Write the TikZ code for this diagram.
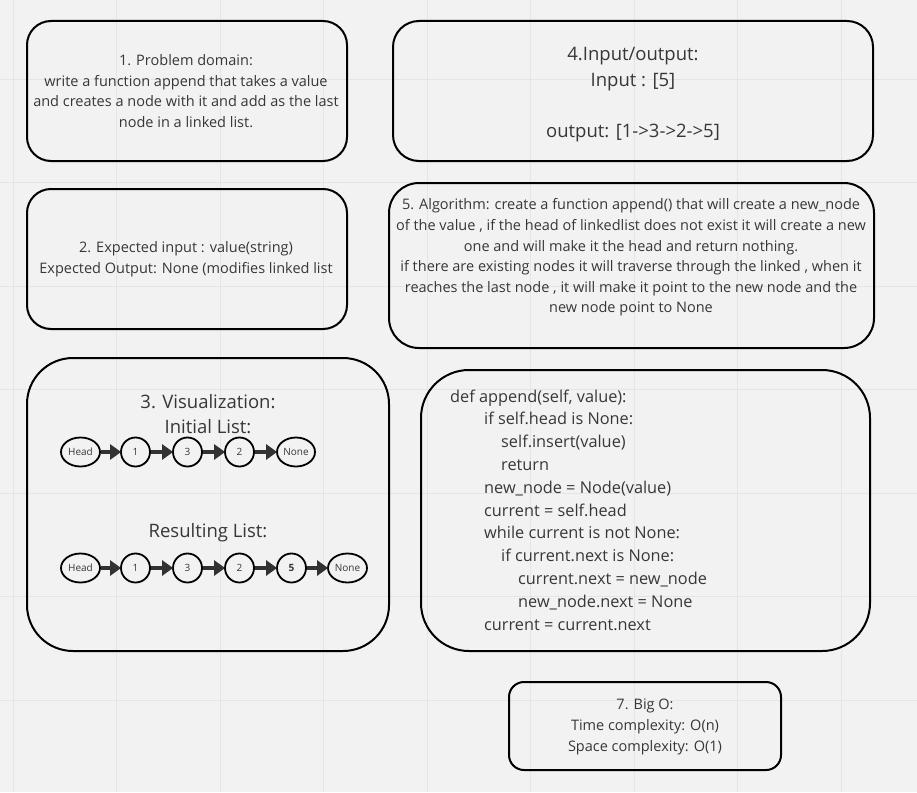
\documentclass[tikz,border=0pt]{standalone}
\usepackage{fontspec}
\setmainfont{Open Sans}
\usetikzlibrary{shapes.geometric,arrows.meta}
\definecolor{bg}{RGB}{242,242,242}
\definecolor{gridc}{RGB}{229,229,229}
\definecolor{txt}{RGB}{55,55,55}
\definecolor{arr}{RGB}{50,50,50}
\tikzset{
  box/.style={draw=black, line width=2pt, minimum width=#1, inner sep=0pt},
  txtnode/.style={text=txt, align=center, inner sep=0pt},
  fs14/.style={font=\fontsize{14.5pt}{20.6pt}\selectfont},
  fs16/.style={font=\fontsize{16.3pt}{22.8pt}\selectfont},
  fs18/.style={font=\fontsize{18.5pt}{25.7pt}\selectfont},
  elnode/.style={draw=black, line width=1.8pt, ellipse, minimum width=39pt, minimum height=29pt, inner sep=0pt, text=txt, font=\fontsize{10pt}{11pt}\selectfont},
  cirnode/.style={draw=black, line width=1.8pt, circle, minimum size=29pt, inner sep=0pt, text=txt, font=\fontsize{10pt}{11pt}\selectfont},
  llarrow/.style={draw=arr, line width=3.2pt, -{Triangle[length=11pt,width=15pt]}, shorten >=-1pt}
}
\begin{document}
\begin{tikzpicture}[x=1pt,y=-1pt]
\useasboundingbox (0,0) rectangle (917,792);
\fill[bg] (0,0) rectangle (917,792);
\foreach \gx in {13,116.5,...,917} \draw[gridc, line width=1pt] (\gx,0) -- (\gx,792);
\foreach \gy in {79,182.5,...,792} \draw[gridc, line width=1pt] (0,\gy) -- (917,\gy);

% boxes
\node[box=320pt, minimum height=140pt, rounded corners=24pt] (b1) at (187,91) {};
\node[box=480pt, minimum height=140pt, rounded corners=26pt] (b4) at (633,91) {};
\node[box=320pt, minimum height=140pt, rounded corners=24pt] (b2) at (187,259) {};
\node[box=485pt, minimum height=165pt, rounded corners=30pt] (b5) at (631.5,265.5) {};
\node[box=362pt, minimum height=293pt, rounded corners=46pt] (b3) at (208,504.5) {};
\node[box=449pt, minimum height=281pt, rounded corners=48pt] (b6) at (645.5,510.5) {};
\node[box=272pt, minimum height=88pt, rounded corners=15pt] (b7) at (645,726) {};

% texts
\node[txtnode, fs14] (t1) at (186,91) {1. Problem domain:\\write a function append that takes a value\\and creates a node with it and add as the last\\node in a linked list.};
\node[txtnode, fs18] (t4) at (633,94.5) {4.Input/output:\\Input : [5]\\[25.7pt]output: [1->3->2->5]};
\node[txtnode, fs14] (t2) at (186,259.5) {2. Expected input : value(string)\\Expected Output: None (modifies linked list};
\node[txtnode, fs14] (t5) at (631,257.5) {5. Algorithm: create a function append() that will create a new\_node\\of the value , if the head of linkedlist does not exist it will create a new\\one and will make it the head and return nothing.\\if there are existing nodes it will traverse through the linked , when it\\reaches the last node , it will make it point to the new node and the\\new node point to None};
\node[txtnode, fs18] (t3a) at (208,414) {3. Visualization:\\Initial List:};
\node[txtnode, fs18] (t3b) at (208,532.5) {Resulting List:};
\node[txtnode, fs16, align=left, anchor=west] (t6) at (450,510) {def append(self, value):\\
\hspace*{34pt}if self.head is None:\\
\hspace*{51pt}self.insert(value)\\
\hspace*{51pt}return\\
\hspace*{34pt}new\_node = Node(value)\\
\hspace*{34pt}current = self.head\\
\hspace*{34pt}while current is not None:\\
\hspace*{51pt}if current.next is None:\\
\hspace*{68pt}current.next = new\_node\\
\hspace*{68pt}new\_node.next = None\\
\hspace*{34pt}current = current.next};
\node[txtnode, fs14] (t7) at (645,727) {7. Big O:\\Time complexity: O(n)\\Space complexity: O(1)};

% initial list
\node[elnode] (h1) at (80.5,452) {Head};
\node[cirnode] (a1) at (135.5,452) {1};
\node[cirnode] (a3) at (187.5,452) {3};
\node[cirnode] (a2) at (239.5,452) {2};
\node[elnode, minimum width=38pt] (n1) at (296,452) {None};
\draw[llarrow] (h1) -- (a1);
\draw[llarrow] (a1) -- (a3);
\draw[llarrow] (a3) -- (a2);
\draw[llarrow] (a2) -- (n1);

% resulting list
\node[elnode] (h2) at (80.5,568) {Head};
\node[cirnode] (c1) at (135.5,568) {1};
\node[cirnode] (c3) at (187.5,568) {3};
\node[cirnode] (c2) at (239.5,568) {2};
\node[cirnode] (c5) at (291.5,568) {\textbf{5}};
\node[elnode, minimum width=39pt] (n2) at (347.5,568) {None};
\draw[llarrow] (h2) -- (c1);
\draw[llarrow] (c1) -- (c3);
\draw[llarrow] (c3) -- (c2);
\draw[llarrow] (c2) -- (c5);
\draw[llarrow] (c5) -- (n2);
\end{tikzpicture}
\end{document}
